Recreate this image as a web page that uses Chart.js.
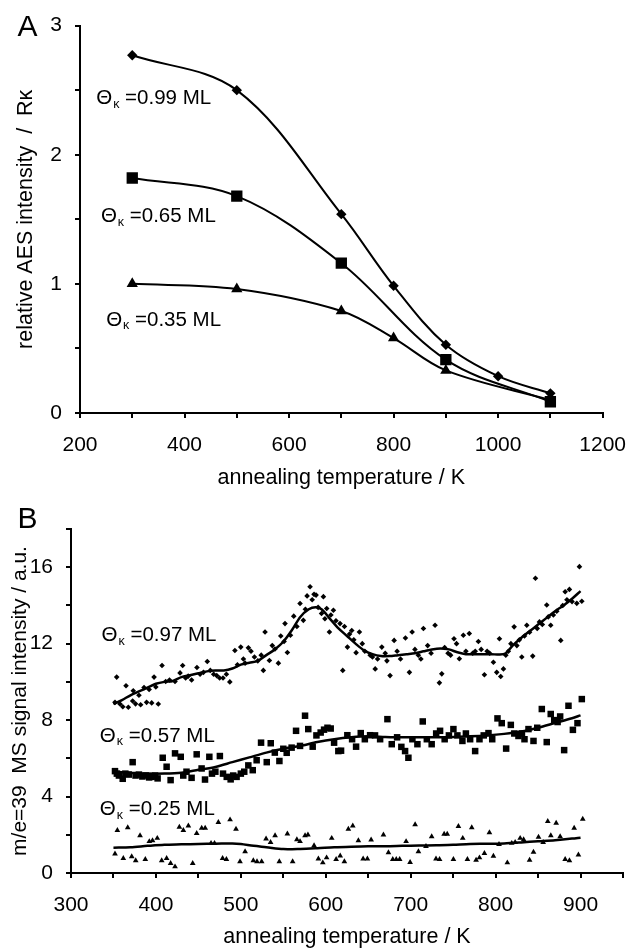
<!DOCTYPE html>
<html><head><meta charset="utf-8">
<script src="https://cdn.jsdelivr.net/npm/chart.js@4.4.0/dist/chart.umd.min.js"></script>
<style>
html,body{margin:0;padding:0;background:#fff;width:641px;height:951px;overflow:hidden}
canvas{position:absolute;left:0}
#cA{top:0}
#cB{top:480px}
</style></head>
<body>
<canvas id="cA" width="641" height="495"></canvas>
<canvas id="cB" width="641" height="471"></canvas>
<script>
// ---------- Panel A data ----------
const aTempTicks = [200, 400, 600, 800, 1000, 1200];
const aRTicks = [0, 1, 2, 3];
const aHighT = [300, 500, 700, 800, 900, 1000, 1100];
const aHighR = [2.77, 2.50, 1.54, 0.985, 0.528, 0.285, 0.152];
const aMidT = [300, 500, 700, 900, 1100];
const aMidR = [1.82, 1.68, 1.16, 0.413, 0.087];
const aLowT = [300, 500, 700, 800, 900, 1100];
const aLowR = [1.00, 0.96, 0.79, 0.58, 0.33, 0.10];
const aCoverages = ['0.99', '0.65', '0.35'];

// ---------- Panel B data ----------
const bTempTicks = [300, 400, 500, 600, 700, 800, 900];
const bSignalTicks = [0, 4, 8, 12, 16];
const bCoverages = ['0.97', '0.57', '0.25'];

const bHighT = [351.8,353.8,357.7,361,364.8,367.5,372.6,373.3,376,380,382,386,389,392,395,397.8,399.9,402.8,407.2,411.5,416,422.5,428.4,431.5,435,438,442,448.3,452,456,460.5,464,468,471.6,475,479,483,487,493,496,499.9,503,505,508.9,512,516,520,524,526.5,528.5,533.6,537,540.2,544.2,547,550.9,552,554.8,558.4,562.3,566,569.7,573.6,576,578,581.5,584,586.2,588.6,591,595,597.2,599,601.1,604.3,606,609,612,616.8,620,622,625.5,628,630.6,633,635.7,639.6,643,646,652.3,655,658.2,661,666,670,672,675.7,680.5,684,688,693.8,698.5,701.7,705,709,712,715,720,724,728.7,733.8,736.6,740,744,747,751,754,757.3,762,765,769,773,776,779.7,783,786.8,790,793,797.4,801.3,804.5,806,809.2,812,815,818,821.8,825,828,830.8,834,836.7,840,843.7,846.9,849,851.6,855,860.2,862,864.9,868,872,876.7,879,881.9,884,886.9,890,895.6,898.7,901.5];
const bHighS = [8.93,10.25,8.84,8.7,9.8,8.67,9.0,9.54,8.85,9.3,8.8,9.7,8.93,9.6,8.9,10.25,9.73,8.84,10.86,10.02,10.1,10.02,10.47,10.86,10.2,10.3,10.1,10.75,10.4,10.5,11.07,10.6,10.4,10.33,10.2,10.2,10.4,10.0,11.64,10.9,11.82,11.2,10.98,11.78,11.6,11.3,11.1,11.4,10.6,12.61,11.12,11.9,11.72,10.98,12.4,12.11,13.05,11.54,12.44,13.44,12.9,14.1,13.22,13.8,14.5,14.98,14.3,14.58,14.54,13.9,13.58,14.46,13.3,13.84,12.61,13.5,13.75,13.2,13.05,10.6,12.9,11.82,12.5,12.69,12.2,11.53,12.61,12.0,11.6,11.4,11.3,10.68,11.2,11.82,11.5,11.1,10.33,12.17,11.6,11.2,12.3,10.5,12.61,11.7,11.4,11.2,12.79,11.9,11.5,12.96,9.95,10.42,11.8,11.5,11.4,12.26,12.0,11.21,12.44,11.6,12.53,11.5,11.6,12.11,11.7,10.37,11.6,11.5,11.03,10.5,12.26,10.28,10.68,11.4,11.6,12.0,12.88,11.9,12.2,11.3,12.4,12.96,12.6,11.35,15.42,12.8,13.14,13.0,14.02,13.4,12.96,13.5,13.7,12.17,14.0,14.72,14.3,14.84,14.2,14.11,16.03,14.22];
const bHighFitT = [350,360,370,380,390,400,410,420,430,440,450,460,470,480,490,500,510,520,530,540,550,560,570,580,588,595,605,615,625,635,645,655,665,675,685,695,705,715,725,735,745,755,765,775,785,795,805,812,820,830,840,850,860,870,880,890,900];
const bHighFitS = [8.84,9.05,9.3,9.5,9.7,9.9,10.0,10.05,10.25,10.35,10.45,10.55,10.6,10.6,10.7,10.9,11.0,11.1,11.4,11.7,12.1,12.7,13.4,13.8,13.9,13.8,13.3,12.8,12.4,12.0,11.65,11.45,11.35,11.35,11.4,11.45,11.5,11.6,11.7,11.75,11.7,11.55,11.45,11.45,11.45,11.45,11.43,11.5,11.9,12.3,12.65,13.0,13.35,13.7,14.0,14.35,14.75];

const bMidT = [351.8,354,356.4,360.9,364,368,372.6,376,380,384,388,392,395,399,402,408,412.6,417.3,422.5,429.2,432.2,436,442,448,453.8,457.8,462.9,466,470,475.3,479,483.4,488,491,495,500,504,508.8,514,518.6,523.8,530.5,535.2,540,545.4,550,554,559.8,565,569.7,575.6,579.4,584.6,589,594,598,602,605.8,609.8,614.8,618,625.4,631,635.7,641.2,646,652.2,658,664,672.6,677.7,684,689,693.4,697.3,702,707.9,714.2,719,724.7,730,734.6,740,745,750.3,755,760.9,765,770,775.9,781,786,791.6,796,802.2,807.2,812.4,817.9,822,826.9,831,834,838.7,844.6,849,854.4,860.2,864.9,869,873,876,880.7,885.8,891,896.4,901.5];
const bMidS = [5.33,5.2,5.1,4.93,5.2,5.15,5.8,5.1,5.15,5.05,5.1,5.0,5.03,5.1,4.95,6.03,5.56,4.86,6.26,6.08,5.1,5.3,4.98,6.21,5.47,4.89,6.08,5.2,5.3,6.12,5.2,5.03,4.9,5.1,5.03,5.2,5.3,5.63,5.38,5.9,6.82,5.8,6.79,6.3,5.86,6.5,6.29,6.56,7.44,6.65,8.23,7.53,6.61,7.2,7.35,7.5,7.6,7.56,6.82,6.38,6.4,7.21,7.0,6.61,7.32,7.0,7.21,7.2,7.0,8.05,6.74,7.1,6.6,6.38,6.03,7.0,6.74,7.93,7.0,6.74,7.3,7.44,7.0,7.2,7.53,7.2,6.91,7.3,7.0,6.38,7.0,7.2,7.32,7.0,8.09,7.84,6.51,7.75,7.3,7.17,7.3,7.0,7.53,6.91,7.6,8.58,6.85,8.32,8.0,7.9,8.19,6.43,8.75,7.49,7.84,9.1];
const bMidFitT = [350,370,390,410,430,450,470,490,510,530,550,570,590,610,630,650,670,690,710,730,750,770,790,810,830,850,870,890,900];
const bMidFitS = [5.3,5.25,5.2,5.2,5.25,5.4,5.55,5.8,6.05,6.3,6.5,6.65,6.85,7.0,7.1,7.15,7.12,7.1,7.1,7.1,7.12,7.15,7.2,7.28,7.4,7.6,7.85,8.1,8.25];

const bLowT = [351.8,354.6,361.6,366.8,371.5,376.2,381.3,387.5,392.2,396,401.6,406.8,412.6,417.3,422.5,427.6,432.3,438.2,443.3,448,453.9,458,464.9,469,473.5,478.5,483,487.3,494.3,499,505,514.7,519,524.5,529.7,535,540.3,545.3,554.8,561,566,569.7,575.6,579,586.2,591.3,596.5,601,607,612.2,617,621.9,626.6,631.8,638.4,644,649,653.4,667.9,673.8,678.9,683,687,694.6,699.3,705.2,709.1,718,724.7,729.8,734,739.4,743,750.3,756.2,761.3,766.8,771.9,777,781,786.8,792.7,797.4,804,813.8,819,823,828.9,833,840,844.6,850.5,856,861.4,865,871.3,876,881.9,886.9,892.5,897.5,902.6];
const bLowS = [1.0,2.23,0.77,2.38,0.86,0.65,1.96,0.72,1.65,1.7,1.82,0.65,0.77,0.51,0.33,2.4,2.23,2.47,0.51,2.08,2.35,2.35,1.56,1.56,2.65,0.77,0.72,2.79,2.3,0.6,1.12,0.65,0.6,0.6,1.79,1.6,1.96,0.6,2.05,0.6,1.75,1.65,1.96,2.0,1.44,0.74,0.54,0.8,1.82,0.72,0.9,0.6,2.3,2.47,1.7,0.74,0.74,1.74,2.0,1.07,0.72,0.72,0.72,1.65,0.56,2.53,1.12,1.4,1.91,0.74,0.72,2.04,2.04,0.72,2.44,1.82,0.72,2.38,0.68,0.8,1.03,2.12,0.89,1.5,0.54,1.56,1.6,1.82,1.75,0.68,1.09,1.88,1.6,2.7,1.96,2.61,1.91,0.72,0.65,2.35,0.95,2.82];
const bLowFitT = [350,370,390,410,430,450,470,490,500,515,530,550,570,590,610,630,650,670,690,710,730,750,770,790,810,830,850,870,890,900];
const bLowFitS = [1.32,1.35,1.42,1.48,1.5,1.52,1.53,1.55,1.52,1.42,1.35,1.25,1.26,1.3,1.35,1.38,1.4,1.4,1.42,1.44,1.45,1.48,1.52,1.53,1.55,1.6,1.66,1.72,1.8,1.85];

// ---------- helpers ----------
const FONT = '"Liberation Sans", Arial, Helvetica, sans-serif';
const zip = (xs, ys) => xs.map((x, i) => ({x: x, y: ys[i]}));

function drawCoverage(ctx, px, py, val) {
  ctx.save();
  ctx.fillStyle = '#000';
  ctx.textAlign = 'left';
  ctx.textBaseline = 'middle';
  ctx.font = '20.5px ' + FONT;
  ctx.fillText('\u0398', px, py);
  const w1 = ctx.measureText('\u0398').width;
  ctx.font = '12.5px ' + FONT;
  ctx.fillText('\u03BA', px + w1 + 1, py + 6);
  const w2 = ctx.measureText('\u03BA').width;
  ctx.font = '20.5px ' + FONT;
  ctx.fillText(' =' + val + ' ML', px + w1 + 1 + w2, py);
  ctx.restore();
}

function labelPlugin(letter, letterPos, annos) {
  return {
    id: 'labels' + letter,
    afterDraw(chart) {
      const ctx = chart.ctx;
      const xs = chart.scales.x, ys = chart.scales.y;
      ctx.save();
      ctx.fillStyle = '#000';
      ctx.font = '30px ' + FONT;
      ctx.textAlign = 'center';
      ctx.textBaseline = 'middle';
      ctx.fillText(letter, letterPos[0], letterPos[1]);
      ctx.restore();
      annos.forEach(a => drawCoverage(ctx, xs.getPixelForValue(a.x), ys.getPixelForValue(a.y), a.text));
    }
  };
}

function axisCommon(min, max, step, labels, pad) {
  return {
    type: 'linear', min: min, max: max,
    ticks: {
      stepSize: step, autoSkip: false, maxRotation: 0, minRotation: 0,
      color: '#000', font: {family: FONT, size: 21}, padding: pad,
      callback: v => (labels.indexOf(v) >= 0 ? String(v) : '')
    },
    grid: {display: true, drawOnChartArea: false, drawTicks: true, tickLength: 5, color: '#000', lineWidth: 2},
    border: {display: true, color: '#000', width: 2}
  };
}

// ---------- Chart A ----------
const xA = axisCommon(200, 1200, 100, aTempTicks, 15);
xA.title = {display: true, text: 'annealing temperature / K', color: '#000', font: {family: FONT, size: 21.5}, padding: {top: 0, bottom: 4}};
xA.afterFit = s => { s.height = 82; };
const yA = axisCommon(0, 3, 0.5, aRTicks, 13);
yA.title = {display: true, text: 'relative AES intensity  /  R\u03BA', color: '#000', font: {family: FONT, size: 21.5}, padding: {top: 13, bottom: 0}};
yA.afterFit = s => { s.width = 80; };

const lineA = (data, style, r) => ({
  data: data, showLine: true, borderColor: '#000', backgroundColor: '#000', borderWidth: 2,
  pointStyle: style, pointRadius: r, pointHoverRadius: r, pointBorderWidth: 0,
  tension: 0.35, fill: false
});

new Chart(document.getElementById('cA'), {
  type: 'scatter',
  data: {datasets: [
    lineA(zip(aHighT, aHighR), 'rectRot', 5.2),
    lineA(zip(aMidT, aMidR), 'rect', 8),
    lineA(zip(aLowT, aLowR), 'triangle', 6.5)
  ]},
  options: {
    responsive: false, animation: false, devicePixelRatio: 1,
    layout: {padding: {left: 0, top: 23, right: 25.5, bottom: 0}},
    plugins: {legend: {display: false}, tooltip: {enabled: false}},
    scales: {x: xA, y: yA}
  },
  plugins: [labelPlugin('A', [27.5, 28], [
    {x: 231, y: 2.433, text: aCoverages[0]},
    {x: 240, y: 1.523, text: aCoverages[1]},
    {x: 250, y: 0.72, text: aCoverages[2]}
  ])]
});

// ---------- Chart B ----------
const xB = axisCommon(300, 950, 50, bTempTicks, 15);
xB.title = {display: true, text: 'annealing temperature / K', color: '#000', font: {family: FONT, size: 21.5}, padding: {top: 0, bottom: 1}};
xB.afterFit = s => { s.height = 78; };
const yB = axisCommon(0, 18, 2, bSignalTicks, 13);
yB.title = {display: true, text: 'm/e=39  MS signal intensity / a.u.', color: '#000', font: {family: FONT, size: 21}, padding: {top: 8, bottom: 0}};
yB.afterFit = s => { s.width = 71; };

const pts = (data, style, r) => ({
  data: data, showLine: false, borderColor: '#000', backgroundColor: '#000',
  pointStyle: style, pointRadius: r, pointHoverRadius: r, pointBorderWidth: 0
});
const fit = (data) => ({
  data: data, showLine: true, borderColor: '#000', borderWidth: 2.5, pointRadius: 0, pointHoverRadius: 0,
  tension: 0.3, fill: false
});

new Chart(document.getElementById('cB'), {
  type: 'scatter',
  data: {datasets: [
    pts(zip(bHighT, bHighS), 'rectRot', 2.8),
    fit(zip(bHighFitT, bHighFitS)),
    pts(zip(bMidT, bMidS), 'rect', 4.6),
    fit(zip(bMidFitT, bMidFitS)),
    pts(zip(bLowT, bLowS), 'triangle', 3.3),
    fit(zip(bLowFitT, bLowFitS))
  ]},
  options: {
    responsive: false, animation: false, devicePixelRatio: 1,
    layout: {padding: {left: 0, top: 49, right: 18, bottom: 0}},
    plugins: {legend: {display: false}, tooltip: {enabled: false}},
    scales: {x: xB, y: yB}
  },
  plugins: [labelPlugin('B', [27.5, 40], [
    {x: 336, y: 12.44, text: bCoverages[0]},
    {x: 334, y: 7.17, text: bCoverages[1]},
    {x: 334, y: 3.32, text: bCoverages[2]}
  ])]
});
</script>
</body></html>
